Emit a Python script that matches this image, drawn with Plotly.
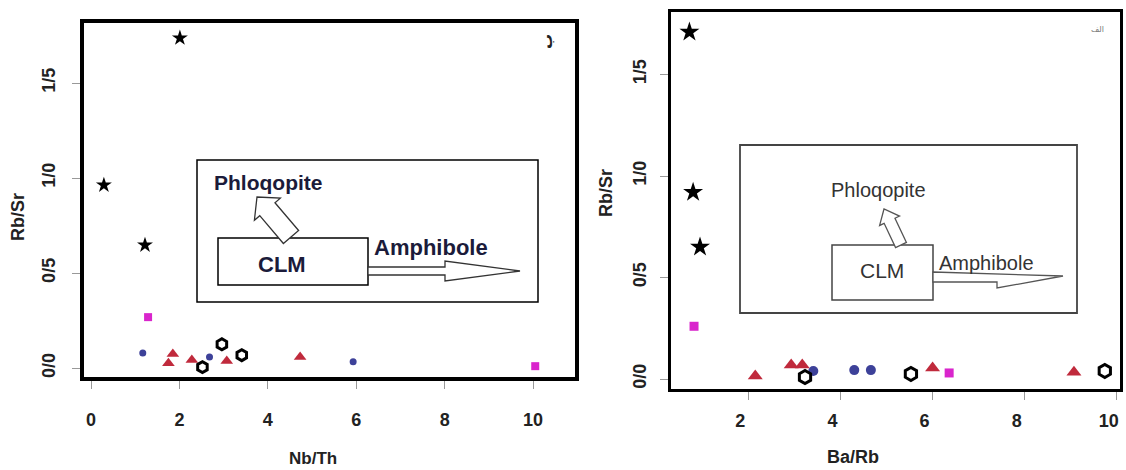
import math
import plotly.graph_objects as go

W, H = 1126, 470

# ---------------- data ----------------
# Left panel: Nb/Th vs Rb/Sr
star_x_L = [2.01, 0.29, 1.22]
star_y_L = [1.737, 0.963, 0.647]
sq_x_L = [1.29, 10.05]
sq_y_L = [0.268, 0.010]
dot_x_L = [1.17, 2.68, 5.93]
dot_y_L = [0.079, 0.058, 0.033]
tri_x_L = [1.85, 1.75, 2.28, 3.07, 4.73]
tri_y_L = [0.074, 0.026, 0.042, 0.037, 0.058]
hex_x_L = [2.52, 2.96, 3.41]
hex_y_L = [0.005, 0.125, 0.068]

# Right panel: Ba/Rb vs Rb/Sr
star_x_R = [0.72, 0.80, 0.95]
star_y_R = [1.71, 0.92, 0.65]
sq_x_R = [0.82, 6.36]
sq_y_R = [0.26, 0.03]
dot_x_R = [3.41, 4.30, 4.66]
dot_y_R = [0.040, 0.044, 0.044]
tri_x_R = [2.15, 2.93, 3.17, 6.00, 9.07]
tri_y_R = [0.015, 0.069, 0.069, 0.054, 0.034]
hex_x_R = [3.23, 5.53, 9.74]
hex_y_R = [0.010, 0.025, 0.040]

x_ticks_L = [0, 2, 4, 6, 8, 10]
x_ticks_R = [2, 4, 6, 8, 10]
y_tickvals = [0, 0.5, 1.0, 1.5]
y_ticktext = ["0/0", "0/5", "1/0", "1/5"]

# ---------------- figure ----------------
fig = go.Figure()

MAGENTA = "#d925cc"
BLUE = "#3d4199"
RED = "#c02a3c"


def add(xs, ys, xa, ya, symbol, color, size, lw=0):
    fig.add_trace(go.Scatter(
        x=xs, y=ys, xaxis=xa, yaxis=ya, mode="markers", showlegend=False,
        hoverinfo="skip",
        marker=dict(symbol=symbol, color=color, size=size,
                    line=dict(width=lw, color=color))))


# left
add(star_x_L, star_y_L, "x", "y", "star", "black", 12)
add(sq_x_L, sq_y_L, "x", "y", "square", MAGENTA, 8)
add(dot_x_L, dot_y_L, "x", "y", "circle", BLUE, 7)
add(tri_x_L, tri_y_L, "x", "y", "triangle-up", RED, 11)
add(hex_x_L, hex_y_L, "x", "y", "hexagon-open", "black", 11, 3)
# right
add(star_x_R, star_y_R, "x2", "y2", "star", "black", 15)
add(sq_x_R, sq_y_R, "x2", "y2", "square", MAGENTA, 9)
add(dot_x_R, dot_y_R, "x2", "y2", "circle", BLUE, 10)
add(tri_x_R, tri_y_R, "x2", "y2", "triangle-up", RED, 13)
add(hex_x_R, hex_y_R, "x2", "y2", "hexagon-open", "black", 13, 3)

tickfont = dict(family="Liberation Sans, Arial", size=18, color="#222", weight="bold")
ax_common = dict(showline=True, mirror=True, linecolor="black", showgrid=False,
                 zeroline=False, ticks="outside", ticklen=8, tickwidth=1,
                 tickcolor="#999", tickfont=tickfont, ticklabeloverflow="allow")

fig.update_layout(
    width=W, height=H, margin=dict(l=0, r=0, t=0, b=0),
    paper_bgcolor="white", plot_bgcolor="white",
    xaxis=dict(domain=[84 / W, 575 / W], anchor="y", range=[-0.16, 10.95],
               tickvals=x_ticks_L, linewidth=4, ticklabelstandoff=15, **ax_common),
    yaxis=dict(domain=[1 - 377 / H, 1 - 23 / H], anchor="x", range=[-0.047, 1.816],
               tickvals=y_tickvals, ticktext=y_ticktext, tickangle=-90,
               linewidth=4, ticklabelstandoff=10, **ax_common),
    xaxis2=dict(domain=[671 / W, 1120 / W], anchor="y2", range=[0.32, 10.07],
                tickvals=x_ticks_R, linewidth=3, ticklabelstandoff=5,
                ticklabelshift=-8, **ax_common),
    yaxis2=dict(domain=[1 - 389 / H, 1 - 12 / H], anchor="x2", range=[-0.049, 1.808],
                tickvals=y_tickvals, ticktext=y_ticktext, tickangle=-90,
                linewidth=3, ticklabelstandoff=7, **ax_common),
)


def pp(px, py):
    return px / W, 1 - py / H


def rect(x0, y0, x1, y1, color, width):
    a, b = pp(x0, y0)
    c, d = pp(x1, y1)
    fig.add_shape(type="rect", xref="paper", yref="paper", x0=a, y0=d, x1=c, y1=b,
                  line=dict(color=color, width=width), fillcolor="rgba(0,0,0,0)")


def poly(points, color, width):
    path = "M " + " L ".join(f"{px / W:.5f},{1 - py / H:.5f}" for px, py in points) + " Z"
    fig.add_shape(type="path", xref="paper", yref="paper", path=path,
                  line=dict(color=color, width=width), fillcolor="white")


def arrow(bx, by, tx, ty, sw, hw, hl, color, width):
    dx, dy = tx - bx, ty - by
    L = math.hypot(dx, dy)
    ux, uy = dx / L, dy / L
    nx, ny = -uy, ux
    hx, hy = tx - ux * hl, ty - uy * hl
    pts = [(bx + nx * sw / 2, by + ny * sw / 2), (hx + nx * sw / 2, hy + ny * sw / 2),
           (hx + nx * hw / 2, hy + ny * hw / 2), (tx, ty),
           (hx - nx * hw / 2, hy - ny * hw / 2), (hx - nx * sw / 2, hy - ny * sw / 2),
           (bx - nx * sw / 2, by - ny * sw / 2)]
    poly(pts, color, width)


def text(px, py, s, size, color, bold=False, angle=0, family="Liberation Sans, Arial"):
    x, y = pp(px, py)
    fig.add_annotation(x=x, y=y, xref="paper", yref="paper", text=s, showarrow=False,
                       xanchor="center", yanchor="middle", textangle=angle,
                       font=dict(family=family, size=size, color=color,
                                 weight="bold" if bold else "normal"))


# left inset diagram
rect(197, 160, 538, 302, "black", 1.5)
rect(218, 238, 368, 285, "black", 1.5)
arrow(291, 237, 257, 197, 20, 34, 16, "#333", 1.3)
arrow(368, 271, 520, 271, 8, 20, 75, "#333", 1.3)
text(268, 182, "Phloqopite", 21, "#1b1b3a", bold=True)
text(282, 264, "CLM", 22, "#1b1b3a", bold=True)
text(431, 247, "Amphibole", 22, "#1b1b3a", bold=True)

# right inset diagram
rect(740, 145, 1077, 313, "#444", 1.8)
rect(832, 245, 933, 300, "#444", 1.5)
arrow(901, 245, 884, 209, 12, 22, 13, "#555", 1.3)
poly([(933, 272), (1063, 276), (997, 288), (997, 282), (933, 282)], "#555", 1.3)
text(878, 190, "Phloqopite", 20, "#333")
text(882, 270, "CLM", 21, "#333")
text(986, 263, "Amphibole", 20, "#333")

# axis titles
text(18, 217, "Rb/Sr", 18, "#222", bold=True, angle=-90)
text(313, 458, "Nb/Th", 17, "#222", bold=True)
text(606, 193, "Rb/Sr", 18, "#222", bold=True, angle=-90)
text(853, 457, "Ba/Rb", 18, "#222", bold=True)

# panel letters
text(547, 42, "ب", 15, "#222", bold=True, angle=-90, family="DejaVu Sans")
text(1097, 30, "الف", 8, "#777", family="DejaVu Sans")

fig.write_html("out.html")
